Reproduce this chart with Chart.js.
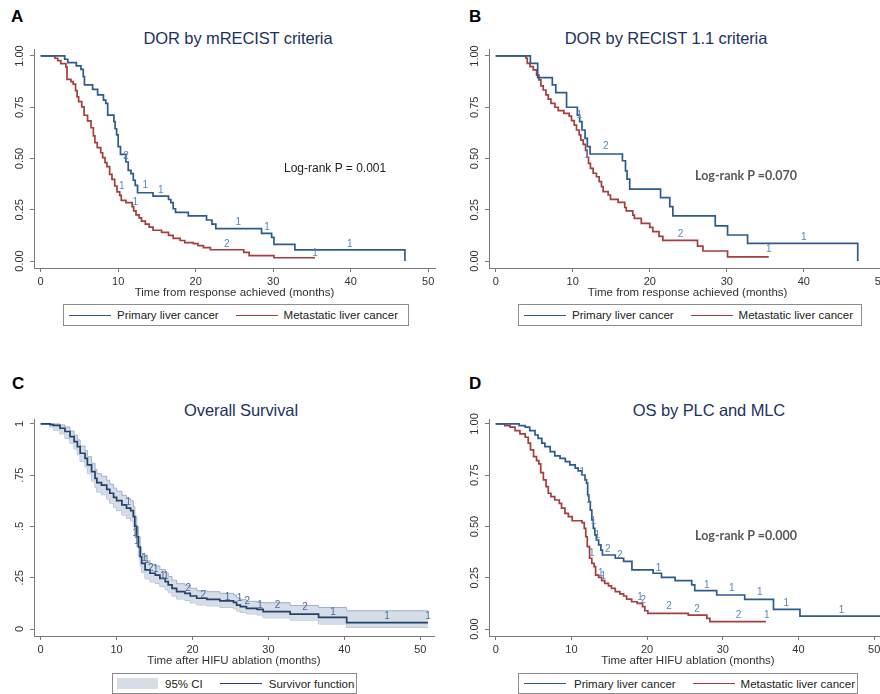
<!DOCTYPE html>
<html>
<head>
<meta charset="utf-8">
<script src="https://cdn.jsdelivr.net/npm/chart.js@4"></script>
<style>
body{margin:0;width:880px;height:694px;overflow:hidden;position:relative;background:#fff;font-family:"Liberation Sans",Arial,sans-serif}
canvas{position:absolute}
.letter{position:absolute;font-weight:bold;font-size:17px;line-height:20px;color:#000}
.title{position:absolute;font-size:16.5px;line-height:20px;color:#1c3260;white-space:nowrap;transform:translateX(-50%);letter-spacing:-0.1px}
.lr{position:absolute;font-size:12px;line-height:16px;color:#222;white-space:nowrap}
.lr2{position:absolute;font-family:Lato,sans-serif;font-weight:bold;font-size:12.5px;line-height:16px;color:#595959;white-space:nowrap}
.legend{position:absolute;box-sizing:border-box;border:1px solid #8c8c8c;background:#fff;display:flex;align-items:center;font-size:11.5px;color:#222;white-space:nowrap;padding-left:5px}
.sw{display:inline-block;width:42px;height:0;border-top:1.5px solid}
.box{display:inline-block;width:41px;height:11px;background:#d6dde7}
</style>
</head>
<body>
<div class="letter" style="left:11px;top:7px">A</div>
<div class="letter" style="left:469px;top:7px">B</div>
<div class="letter" style="left:12px;top:374px">C</div>
<div class="letter" style="left:469px;top:374px">D</div>

<div class="title" style="left:238px;top:28px">DOR by mRECIST criteria</div>
<div class="title" style="left:666px;top:28px">DOR by RECIST 1.1 criteria</div>
<div class="title" style="left:241px;top:400px">Overall Survival</div>
<div class="title" style="left:709px;top:400px">OS by PLC and MLC</div>

<canvas id="cA" width="440" height="300" style="left:0;top:0"></canvas>
<canvas id="cB" width="450" height="300" style="left:440px;top:0"></canvas>
<canvas id="cC" width="440" height="328" style="left:0;top:340px"></canvas>
<canvas id="cD" width="450" height="328" style="left:440px;top:340px"></canvas>

<div class="lr" style="left:284px;top:160px">Log-rank P = 0.001</div>
<div class="lr2" style="left:695px;top:168px">Log-rank P =0.070</div>
<div class="lr2" style="left:695px;top:528px">Log-rank P =0.000</div>

<div class="legend" style="left:63px;top:304px;width:346px;height:22px">
  <span class="sw" style="border-color:#2d5b8e"></span><span style="margin-left:6px">Primary liver cancer</span>
  <span class="sw" style="border-color:#a63d3f;margin-left:17px"></span><span style="margin-left:6px">Metastatic liver cancer</span>
</div>
<div class="legend" style="left:518px;top:304px;width:344px;height:22px">
  <span class="sw" style="border-color:#2d5b8e"></span><span style="margin-left:6px">Primary liver cancer</span>
  <span class="sw" style="border-color:#a63d3f;margin-left:17px"></span><span style="margin-left:6px">Metastatic liver cancer</span>
</div>
<div class="legend" style="left:112px;top:673px;width:245px;height:21px;padding-left:4px">
  <span class="box"></span><span style="margin-left:7px">95% CI</span>
  <span class="sw" style="border-color:#23426b;margin-left:17px"></span><span style="margin-left:7px">Survivor function</span>
</div>
<div class="legend" style="left:518px;top:673px;width:340px;height:21px">
  <span class="sw" style="border-color:#2d5b8e"></span><span style="margin-left:8px">Primary liver cancer</span>
  <span class="sw" style="border-color:#a63d3f;margin-left:17px"></span><span style="margin-left:6px">Metastatic liver cancer</span>
</div>

<script>
// ticks
const xTickVals = [0, 10, 20, 30, 40, 50];
const xTickText = ['0', '10', '20', '30', '40', '50'];
const yTickVals = [0, 0.25, 0.5, 0.75, 1];
const yTickText = ['0.00', '0.25', '0.50', '0.75', '1.00'];
const yTickTextC = ['0', '.25', '.5', '.75', '1'];

// A - DOR by mRECIST
const aPrimT = [0, 3.1, 3.5, 4.6, 5.2, 5.5, 5.65, 6.7, 7.35, 8.1, 8.4, 8.65, 9.45, 9.6, 9.8, 10.0, 10.3, 11.0, 11.3, 11.65, 11.95, 12.2, 12.5, 14.5, 16.5, 16.8, 17.1, 17.4, 19.05, 21.4, 22.1, 22.6, 28.5, 29.8, 30.1, 32.8, 47.0];
const aPrimS = [1, .984, .968, .952, .935, .899, .859, .837, .81, .785, .769, .712, .68, .645, .615, .558, .52, .483, .442, .426, .394, .369, .333, .317, .30, .285, .255, .237, .22, .20, .18, .158, .135, .115, .081, .054, 0];
const aMetT = [0, 1.85, 2.2, 2.6, 3.25, 3.4, 3.9, 4.2, 4.5, 4.7, 4.9, 5.3, 5.6, 6.05, 6.5, 6.8, 7.0, 7.3, 7.75, 8.0, 8.3, 8.55, 8.9, 9.2, 9.55, 9.85, 10.2, 10.4, 11.0, 11.8, 12.0, 12.3, 12.7, 13.0, 13.5, 14.0, 14.5, 15.6, 16.5, 17.1, 18.0, 18.6, 19.7, 20.3, 21.0, 21.9, 26.2, 26.9, 30.1, 35.4];
const aMetS = [1, .989, .977, .963, .947, .886, .875, .863, .831, .801, .777, .752, .711, .683, .65, .61, .577, .553, .528, .504, .48, .46, .423, .398, .366, .337, .32, .296, .285, .265, .245, .225, .21, .195, .18, .165, .15, .14, .125, .11, .10, .09, .085, .075, .065, .055, .042, .026, .016, .016];
const aMarks = [[11.0, .51, '2'], [13.5, .37, '1'], [15.5, .346, '1'], [25.5, .19, '1'], [29.2, .167, '1'], [39.9, .081, '1'],
  [10.45, .363, '1'], [12.2, .285, '1'], [24.0, .081, '2'], [35.4, .037, '1']];

// B - DOR by RECIST 1.1
const bPrimT = [0, 4.5, 5.45, 7.35, 7.8, 9.2, 10.6, 10.9, 11.2, 11.6, 11.9, 12.25, 16.45, 16.85, 17.05, 17.4, 21.4, 22.6, 23.0, 28.5, 30.1, 32.7, 47.0];
const bPrimS = [1, .964, .894, .859, .821, .75, .712, .68, .639, .598, .558, .522, .489, .44, .399, .351, .309, .265, .22, .171, .127, .086, 0];
const bMetT = [0, 3.93, 4.1, 4.45, 4.88, 5.31, 5.61, 5.87, 6.17, 6.52, 6.82, 7.17, 7.69, 8.12, 8.85, 9.54, 9.84, 10.19, 10.49, 10.84, 11.05, 11.36, 11.66, 11.87, 12.05, 12.3, 12.65, 13.08, 13.43, 13.73, 13.95, 14.6, 14.9, 15.9, 16.75, 16.95, 17.8, 18.0, 18.9, 20.0, 20.4, 21.2, 21.7, 26.2, 26.9, 30.1, 35.45];
const bMetS = [1, .989, .964, .948, .932, .907, .883, .854, .834, .81, .79, .769, .75, .733, .72, .707, .685, .663, .639, .615, .59, .569, .541, .506, .476, .452, .428, .411, .387, .363, .338, .322, .301, .286, .261, .245, .224, .208, .184, .164, .143, .12, .101, .073, .049, .02, .02];
const bMarks = [[10.85, .712, '1'], [11.9, .517, '1'], [14.3, .558, '2'], [40.0, .115, '1'],
  [24.0, .132, '2'], [35.45, .057, '1']];

// C - Overall survival with 95% CI
const cT = [0, 1.23, 1.67, 2.55, 3.2, 3.86, 4.4, 4.83, 5.2, 5.84, 6.15, 6.7, 7.16, 7.4, 8.0, 8.7, 9.1, 9.6, 10.0, 10.7, 11.3, 11.85, 12.2, 12.4, 12.65, 12.87, 13.1, 13.3, 13.75, 14.4, 15.1, 15.7, 16.4, 16.8, 17.3, 17.9, 19.0, 19.7, 20.55, 21.9, 23.6, 25.4, 25.8, 26.3, 27.1, 28.5, 29.3, 32.85, 36.6, 40.3, 51.0];
const cS = [1, .997, .993, .979, .963, .938, .914, .889, .857, .832, .80, .767, .735, .714, .702, .681, .662, .642, .626, .605, .589, .577, .548, .50, .45, .40, .353, .32, .288, .272, .263, .247, .231, .215, .198, .182, .174, .161, .15, .145, .137, .13, .117, .109, .101, .096, .085, .073, .057, .031, .031];
const cUpper = [1, 1, 1, .995, .985, .965, .945, .922, .892, .87, .84, .808, .778, .758, .745, .725, .706, .687, .672, .652, .636, .625, .597, .55, .50, .45, .40, .366, .333, .316, .307, .29, .273, .256, .238, .221, .213, .199, .187, .182, .174, .166, .152, .143, .135, .13, .128, .115, .105, .089, .089];
const cLower = [1, .985, .97, .952, .93, .905, .878, .85, .818, .79, .757, .722, .69, .668, .655, .634, .614, .594, .578, .556, .54, .528, .499, .451, .402, .353, .308, .276, .245, .23, .222, .207, .192, .177, .161, .147, .14, .128, .118, .113, .106, .099, .088, .081, .074, .069, .055, .044, .025, .008, .008];
const cMarks = [[11.55, .616, '1'], [12.43, .467, '1'], [12.65, .426, '1'], [13.6, .345, '1'], [13.97, .333, '1'], [14.5, .296, '2'], [15.15, .291, '1'], [16.07, .255, '1'], [16.5, .255, '1'], [19.45, .198, '2'], [21.43, .163, '2'], [24.6, .154, '1'], [26.2, .15, '1'], [27.2, .133, '2'], [28.9, .117, '1'], [31.2, .114, '2'], [34.8, .104, '2'], [38.5, .08, '1'], [45.6, .063, '1'], [51.0, .063, '1']];

// D - OS by PLC and MLC
const dPrimT = [0, 3.1, 3.9, 4.5, 5.2, 5.6, 6.1, 6.5, 7.2, 7.8, 8.5, 9.2, 9.8, 10.5, 10.9, 11.4, 11.8, 12.0, 12.15, 12.3, 12.5, 12.7, 12.9, 13.1, 13.3, 13.6, 13.9, 14.1, 15.8, 16.9, 18.0, 20.8, 21.9, 23.7, 25.9, 26.3, 29.2, 32.9, 36.7, 40.2, 51.0];
const dPrimS = [1, .992, .984, .967, .946, .93, .906, .889, .865, .844, .832, .816, .80, .784, .771, .751, .727, .711, .654, .621, .58, .532, .491, .459, .434, .41, .385, .361, .345, .33, .288, .272, .252, .236, .215, .187, .166, .145, .096, .063, .063];
const dMetT = [0, 1.2, 1.9, 2.55, 3.2, 3.9, 4.3, 4.6, 5.0, 5.4, 5.7, 5.95, 6.3, 6.65, 6.95, 7.3, 7.8, 8.4, 8.7, 9.15, 9.6, 10.1, 11.4, 11.7, 11.9, 12.1, 12.4, 12.7, 13.0, 13.2, 13.6, 14.0, 14.4, 14.9, 15.3, 15.8, 16.4, 16.9, 17.3, 17.96, 18.7, 19.4, 19.7, 20.1, 25.45, 27.9, 28.3, 35.7];
const dMetS = [1, .992, .984, .967, .951, .935, .906, .873, .841, .821, .805, .763, .727, .694, .662, .646, .629, .613, .589, .564, .548, .528, .519, .491, .45, .402, .345, .32, .304, .263, .252, .236, .223, .21, .198, .182, .171, .161, .146, .133, .125, .109, .089, .076, .068, .052, .036, .036];
const dMarks = [[11.45, .763, '1'], [12.33, .629, '1'], [12.9, .524, '1'], [13.43, .459, '1'], [14.8, .389, '2'], [16.4, .361, '2'], [21.5, .296, '1'], [27.9, .215, '1'], [31.2, .198, '1'], [34.9, .177, '1'], [38.4, .125, '1'], [45.7, .093, '1'],
  [12.7, .369, '1'], [13.9, .272, '1'], [14.2, .255, '1'], [19.07, .154, '1'], [19.5, .138, '2'], [22.9, .109, '2'], [26.6, .096, '2'], [32.1, .068, '2'], [35.8, .068, '1']];

const BLUE = '#2d5b8e', RED = '#a63d3f', NAVY = '#23426b';
const CI_FILL = '#d6dde7', CI_LINE = '#9fb1c9', MARK = '#5a86b8', AXIS = '#7a7a7a';

Chart.defaults.font.family = '"Liberation Sans", Arial, sans-serif';
Chart.defaults.color = '#333';

function km(ts, ss) {
  return ts.map((t, i) => ({x: t, y: ss[i]}));
}

function curve(ts, ss, color) {
  return {data: km(ts, ss), borderColor: color, borderWidth: 1.7, stepped: true, pointRadius: 0, fill: false};
}

// rotated y tick labels like stata
const yLabels = {
  id: 'yLabels',
  afterDraw(chart, args, opts) {
    const s = chart.scales.y, ctx = chart.ctx;
    ctx.save();
    ctx.font = '11px "Liberation Sans", Arial, sans-serif';
    ctx.fillStyle = '#333';
    ctx.textAlign = 'center';
    ctx.textBaseline = 'middle';
    yTickVals.forEach((v, i) => {
      ctx.save();
      ctx.translate(s.right - 14, s.getPixelForValue(v));
      ctx.rotate(-Math.PI / 2);
      ctx.fillText(opts.labels[i], 0, 0);
      ctx.restore();
    });
    ctx.restore();
  }
};

// censoring counts drawn on the curves
const marks = {
  id: 'marks',
  afterDatasetsDraw(chart, args, opts) {
    const {ctx, scales: {x, y}} = chart;
    ctx.save();
    ctx.font = '10px "Liberation Sans", Arial, sans-serif';
    ctx.fillStyle = opts.color;
    ctx.textAlign = 'center';
    ctx.textBaseline = 'middle';
    opts.items.forEach(m => ctx.fillText(m[2], x.getPixelForValue(m[0]), y.getPixelForValue(m[1])));
    ctx.restore();
  }
};

function kmChart(id, o) {
  return new Chart(document.getElementById(id), {
    type: 'line',
    data: {datasets: o.datasets},
    options: {
      responsive: false,
      animation: false,
      layout: {padding: o.pad},
      scales: {
        x: {
          type: 'linear', min: o.xMin, max: o.xMax,
          afterBuildTicks: s => { s.ticks = xTickVals.map(v => ({value: v})); },
          afterFit: s => { s.height = 32; },
          grid: {drawOnChartArea: false, tickLength: 4, color: AXIS},
          border: {color: AXIS},
          ticks: {padding: 3, font: {size: 11}, color: '#333', callback: (v, i) => xTickText[i]},
          title: {display: true, text: o.xTitle, padding: 0, font: {size: 11.5}, color: '#333'}
        },
        y: {
          min: -0.034, max: o.yMax,
          afterBuildTicks: s => { s.ticks = yTickVals.map(v => ({value: v})); },
          afterFit: s => { s.width = o.yW; },
          grid: {drawOnChartArea: false, tickLength: 4, color: AXIS},
          border: {color: AXIS},
          ticks: {display: false}
        }
      },
      plugins: {
        legend: {display: false},
        tooltip: {enabled: false},
        yLabels: {labels: o.yText},
        marks: {items: o.marks, color: o.markColor || MARK}
      }
    },
    plugins: [yLabels, marks]
  });
}

kmChart('cA', {
  datasets: [curve(aPrimT, aPrimS, BLUE), curve(aMetT, aMetS, RED)],
  pad: {left: 0, right: 5, top: 49, bottom: 0},
  xMin: -0.86, xMax: 50.88, yMax: 1.034, yW: 34,
  xTitle: 'Time from response achieved (months)', yText: yTickText, marks: aMarks
});

kmChart('cB', {
  datasets: [curve(bPrimT, bPrimS, BLUE), curve(bMetT, bMetS, RED)],
  pad: {left: 0, right: 3, top: 49, bottom: 0},
  xMin: -0.87, xMax: 50.7, yMax: 1.034, yW: 49,
  xTitle: 'Time from response achieved (months)', yText: yTickText, marks: bMarks
});

kmChart('cC', {
  datasets: [
    curve(cT, cS, NAVY),
    {data: km(cT, cUpper), borderColor: CI_LINE, borderWidth: 1, stepped: true, pointRadius: 0, fill: '+1', backgroundColor: CI_FILL},
    {data: km(cT, cLower), borderColor: CI_LINE, borderWidth: 1, stepped: true, pointRadius: 0, fill: false}
  ],
  pad: {left: 0, right: 6, top: 79, bottom: 0},
  xMin: -0.88, xMax: 51.8, yMax: 1.024, yW: 34,
  xTitle: 'Time after HIFU ablation (months)', yText: yTickTextC, marks: cMarks, markColor: '#4a6a95'
});

kmChart('cD', {
  datasets: [curve(dPrimT, dPrimS, BLUE), curve(dMetT, dMetS, RED)],
  pad: {left: 0, right: 3, top: 79, bottom: 0},
  xMin: -0.885, xMax: 51.7, yMax: 1.024, yW: 49,
  xTitle: 'Time after HIFU ablation (months)', yText: yTickText, marks: dMarks
});
</script>
</body>
</html>
